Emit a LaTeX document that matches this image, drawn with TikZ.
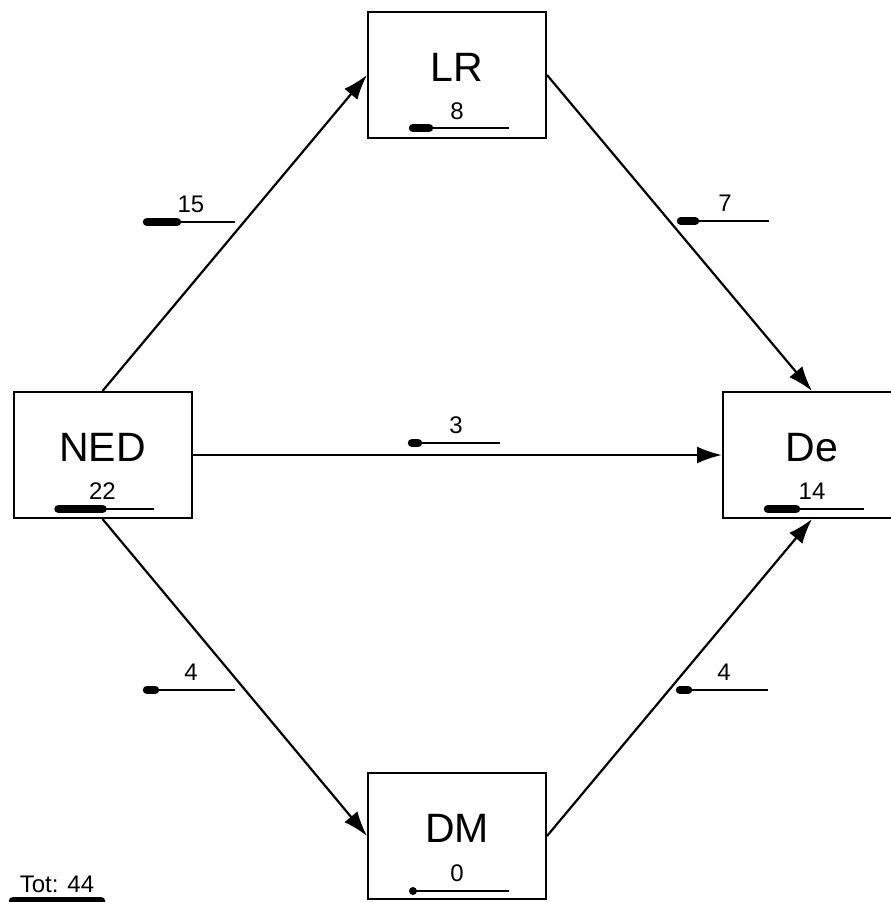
\documentclass[tikz,border=0pt]{standalone}
\usepackage{fontspec}
\setmainfont{Liberation Sans}
\usetikzlibrary{arrows.meta}

% value bar: centre x, y, value, right end of thin line
\newcommand{\valbar}[4]{%
  \draw[thinbar] ({#1-44},#2) -- ({#1+#4},#2);
  \ifnum#3>0
    \draw[thickbar] ({#1-44},#2) -- ++({2*#3},0);
  \else
    \fill ({#1-44},#2) circle (4);
  \fi}

\begin{document}
\begin{tikzpicture}[x=1pt, y=-1pt,
    block/.style={rectangle, draw, line width=2pt, minimum width=178pt, minimum height=126pt, inner sep=0pt},
    title/.style={font=\fontsize{41}{41}\selectfont, anchor=base, inner sep=0pt},
    num/.style={font=\fontsize{24}{24}\selectfont, anchor=base, inner sep=0pt},
    flow/.style={-{Latex[length=25pt, width=17pt]}, line width=2.2pt},
    thinbar/.style={line width=1.5pt},
    thickbar/.style={line width=8.5pt, line cap=round}
]
\useasboundingbox (0,0) rectangle (891,902);

% States
\node[block] (LR) at (457,75) {};
\node[block] (NED) at (102.5,455) {};
\node[block] (De) at (812,455) {};
\node[block] (DM) at (457,836) {};

% State names
\node[title] (LRt) at (457,81.7) {LR};
\node[title] (NEDt) at (102.5,461.7) {NED};
\node[title] (Det) at (812,461.7) {De};
\node[title] (DMt) at (457,842.7) {DM};

% State counts
\node[num] (LRn) at (457,119) {8};
\node[num] (NEDn) at (102.5,499) {22};
\node[num] (Den) at (812,499) {14};
\node[num] (DMn) at (457,881) {0};
\valbar{457}{128}{8}{52}
\valbar{102.5}{509}{22}{51}
\valbar{812}{509}{14}{52}
\valbar{457}{891}{0}{52}

% Transitions
\draw[flow] (NED.north) -- (LR.west);
\draw[flow] (LR.east) -- (De.north);
\draw[flow] (NED.east) -- (De.west);
\draw[flow] (NED.south) -- (DM.west);
\draw[flow] (DM.east) -- (De.south);

% Transition counts
\node[num] (n15) at (191,212) {15};
\node[num] (n7) at (725,211) {7};
\node[num] (n3) at (456,433) {3};
\node[num] (n4a) at (191,680) {4};
\node[num] (n4b) at (724,680) {4};
\valbar{191}{222}{15}{44}
\valbar{725}{221}{7}{44}
\valbar{456}{443}{3}{44}
\valbar{191}{690}{4}{44}
\valbar{724}{690}{4}{44}

% Total
\node[num] (tot) at (57,892) {Tot: 44};
\valbar{57}{901}{44}{44}

\end{tikzpicture}
\end{document}
